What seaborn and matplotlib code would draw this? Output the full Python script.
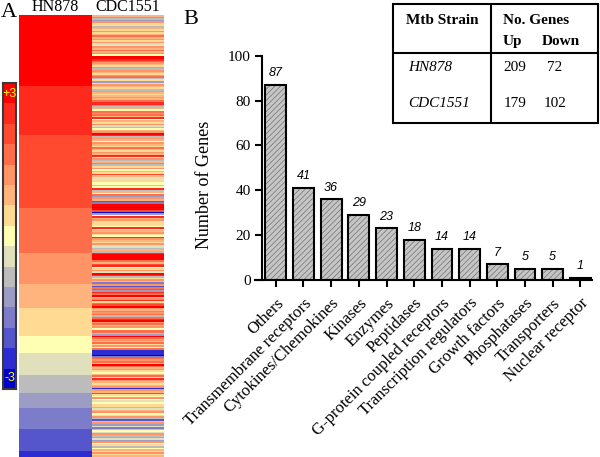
import numpy as np
import pandas as pd
import matplotlib
matplotlib.use("Agg")
import matplotlib.pyplot as plt
from matplotlib.colors import ListedColormap
from matplotlib.patches import Rectangle
import seaborn as sns

# Panel A: expression levels, 0 = -3 (blue) ... 14 = +3 (red)
level_colors = ["#0000cc", "#2c2cd2", "#5656cc", "#7c7cca", "#9c9cc4",
                "#bcbcbc", "#e0e0bc", "#ffffb4", "#ffda92", "#ffb47e",
                "#ff9466", "#ff6e4a", "#ff4a30", "#ff2a1e", "#ff0000"]

# HN878 column is sorted -> runs of (level, number of genes)
hn878_levels = [14, 13, 12, 11, 10, 9, 8, 7, 6, 5, 4, 3, 2, 1]
hn878_counts = [45, 31, 47, 28, 20, 15, 18, 11, 14, 11, 10, 13, 14, 4]

# CDC1551 column, one hex digit per gene (same row order)
cdc1551_codes = (
    "9454a68598a89b9a8a68a9b9a7eedba98a5a98ab5846a98"
    "5a989a9bdd4597bab9d798a6579aed5a97a98b98a9d8a59"
    "458a798c96887797d597b4a9d3ee1ec047d9a8687d69a87"
    "da98a86595deeeeb9cd78a6ed58a93a2bc4dbe9ad8bcea9"
    "4ab5bdeab9a7bb94eba9b8a7b11103bab9eb9a879b8da98"
    "9a1a9c87a76788569a76a529a463576a5a64a785796a89"
)

# Panel B
categories = ["Others", "Transmembrane receptors", "Cytokines/Chemokines",
              "Kinases", "Enzymes", "Peptidases", "G-protein coupled receptors",
              "Transcription regulators", "Growth factors", "Phosphatases",
              "Transporters", "Nuclear receptor"]
gene_counts = [87, 41, 36, 29, 23, 18, 14, 14, 7, 5, 5, 1]

# inset table
strains = ["HN878", "CDC1551"]
genes_up = [209, 179]
genes_down = [72, 102]

sns.set_style("ticks")
plt.rcParams["font.family"] = ["Liberation Serif", "DejaVu Serif"]
plt.rcParams["text.color"] = "black"
plt.rcParams["axes.labelcolor"] = "black"
plt.rcParams["xtick.color"] = "black"
plt.rcParams["ytick.color"] = "black"
plt.rcParams["hatch.linewidth"] = 0.6

W, H = 600, 457
fig = plt.figure(figsize=(6, 4.57), dpi=100)

def box(x0, y0, x1, y1):
    # pixel box (top-left origin) -> figure fraction rect
    return [x0 / W, 1 - y1 / H, (x1 - x0) / W, (y1 - y0) / H]

cmap = ListedColormap(level_colors)

# heatmap
heat = pd.DataFrame({
    "HN878": np.repeat(hn878_levels, hn878_counts),
    "CDC1551": [int(c, 16) for c in cdc1551_codes],
})
ax_h = fig.add_axes(box(19.3, 15, 164, 457))
sns.heatmap(heat, ax=ax_h, cmap=cmap, vmin=-0.5, vmax=14.5, cbar=False,
            yticklabels=False)
ax_h.xaxis.tick_top()
ax_h.tick_params(axis="x", length=0, pad=0, labelsize=11.5, rotation=0)
ax_h.set_ylabel("")

# colour scale
ax_c = fig.add_axes(box(3, 83, 16, 389))
scale = pd.DataFrame({"level": np.arange(len(level_colors))[::-1]})
sns.heatmap(scale, ax=ax_c, cmap=cmap, vmin=-0.5, vmax=14.5, cbar=False,
            xticklabels=False, yticklabels=False)
for s in ax_c.spines.values():
    s.set_visible(True)
    s.set_color("#3a3a3a")
    s.set_linewidth(1.5)
ax_c.text(0.5, 0.985, "+3", transform=ax_c.transAxes, ha="center", va="top",
          color="#ffff00", fontsize=9, family="Liberation Sans")
ax_c.text(0.5, 0.015, "-3", transform=ax_c.transAxes, ha="center", va="bottom",
          color="#ffff00", fontsize=9, family="Liberation Sans")

# bar chart
ax_b = fig.add_axes(box(255, 55.7, 591.7, 280))
df_b = pd.DataFrame({"category": categories, "genes": gene_counts})
sns.barplot(data=df_b, x="category", y="genes", ax=ax_b, color="#c6c6c6",
            saturation=1, width=0.75, hatch="//////", edgecolor="#7e7e7e",
            linewidth=0.01, errorbar=None)
sns.barplot(data=df_b, x="category", y="genes", ax=ax_b, color="black",
            fill=False, width=0.75, linewidth=1.5, errorbar=None)
ax_b.bar_label(ax_b.containers[0], padding=4, fontsize=9, fontstyle="italic",
               family="Liberation Sans")
ax_b.set_xlim(-0.75, 11.41)
ax_b.set_ylim(0, 100)
ax_b.set_yticks([0, 20, 40, 60, 80, 100])
ax_b.spines["left"].set_position(("data", -0.495))
ax_b.spines[["top", "right"]].set_visible(False)
for s in ["left", "bottom"]:
    ax_b.spines[s].set_linewidth(1.5)
    ax_b.spines[s].set_color("black")
ax_b.tick_params(axis="both", direction="out", length=5, width=1.5)
ax_b.tick_params(axis="y", labelsize=11, pad=3)
ax_b.tick_params(axis="x", labelsize=12, pad=6)
plt.setp(ax_b.get_xticklabels(), rotation=45, ha="right", rotation_mode="anchor")
ax_b.set_xlabel("")
ax_b.set_ylabel("Number of Genes", fontsize=13)
ax_b.yaxis.set_label_coords(-0.125, 0.424)

# inset table
ax_t = fig.add_axes(box(393, 4, 598, 122.7))
ax_t.set_xlim(0, 1)
ax_t.set_ylim(0, 1)
ax_t.axis("off")
ax_t.add_patch(Rectangle((0, 0), 1, 1, fill=False, lw=1.5, ec="black",
                         clip_on=False))
ax_t.plot([0, 1], [0.591, 0.591], color="black", lw=1.5)
ax_t.plot([0.478, 0.478], [0, 1], color="black", lw=1.5)
ax_t.text(0.063, 0.857, "Mtb Strain", fontsize=11, fontweight="bold", va="center")
ax_t.text(0.70, 0.857, "No. Genes", fontsize=11, fontweight="bold",
          va="center", ha="center")
ax_t.text(0.58, 0.685, "Up", fontsize=11, fontweight="bold", va="center", ha="center")
ax_t.text(0.82, 0.685, "Down", fontsize=11, fontweight="bold", va="center", ha="center")
for yy, name, up, down in zip([0.469, 0.158], strains, genes_up, genes_down):
    ax_t.text(0.073, yy, name, fontsize=11, fontstyle="italic", va="center")
    ax_t.text(0.595, yy, str(up), fontsize=11, va="center", ha="center")
    ax_t.text(0.79, yy, str(down), fontsize=11, va="center", ha="center")

fig.text(0.5 / W, 1 - 17 / H, "A", fontsize=16, va="baseline")
fig.text(183 / W, 1 - 24 / H, "B", fontsize=16, va="baseline")

fig.savefig("out.png", dpi=100)
